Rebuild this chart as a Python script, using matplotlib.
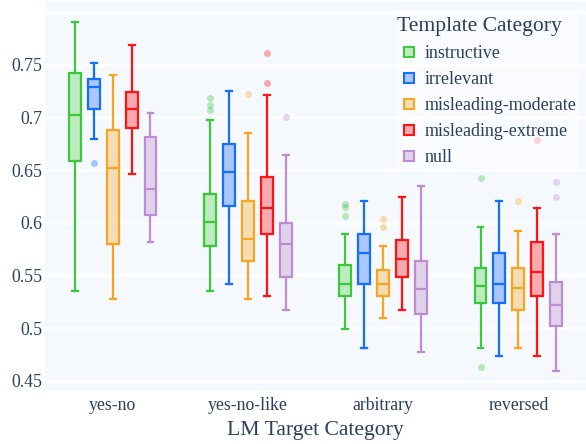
import matplotlib
matplotlib.use("Agg")
import matplotlib.pyplot as plt
from matplotlib.lines import Line2D

# x categories and template series
target_cats = ["yes-no", "yes-no-like", "arbitrary", "reversed"]
templates = ["instructive", "irrelevant", "misleading-moderate", "misleading-extreme", "null"]

# box stats per template: one (low, q1, median, q3, high) per target category
instructive = [(0.535, 0.6585, 0.702, 0.742, 0.790),
               (0.535, 0.578, 0.601, 0.627, 0.697),
               (0.499, 0.531, 0.542, 0.560, 0.589),
               (0.481, 0.524, 0.540, 0.557, 0.596)]
irrelevant = [(0.679, 0.708, 0.729, 0.736, 0.751),
              (0.542, 0.6155, 0.648, 0.675, 0.725),
              (0.481, 0.542, 0.571, 0.589, 0.621),
              (0.474, 0.524, 0.542, 0.571, 0.621)]
mis_moderate = [(0.528, 0.580, 0.652, 0.688, 0.740),
                (0.528, 0.5636, 0.585, 0.621, 0.685),
                (0.510, 0.531, 0.542, 0.555, 0.578),
                (0.481, 0.517, 0.538, 0.557, 0.592)]
mis_extreme = [(0.646, 0.690, 0.708, 0.724, 0.769),
               (0.531, 0.589, 0.614, 0.643, 0.7215),
               (0.517, 0.549, 0.5655, 0.5835, 0.624),
               (0.474, 0.531, 0.553, 0.582, 0.614)]
null = [(0.582, 0.607, 0.632, 0.681, 0.704),
        (0.517, 0.549, 0.580, 0.600, 0.664),
        (0.477, 0.513, 0.537, 0.564, 0.635),
        (0.4595, 0.5025, 0.522, 0.544, 0.589)]

# outliers per template, per target category
instructive_out = [[], [0.7184, 0.7117, 0.7073], [0.6177, 0.6146, 0.6066], [0.6427, 0.463]]
irrelevant_out = [[0.657], [], [], []]
mis_moderate_out = [[], [0.7218], [0.6032, 0.5959], [0.6209]]
mis_extreme_out = [[], [0.7614, 0.7329], [], [0.6788]]
null_out = [[], [0.7003], [], [0.6389, 0.6247]]

all_stats = [instructive, irrelevant, mis_moderate, mis_extreme, null]
all_out = [instructive_out, irrelevant_out, mis_moderate_out, mis_extreme_out, null_out]

edge_colors = ["#3cc83c", "#146eff", "#f5a51e", "#ff1414", "#be8cd2"]
fill_colors = ["#bdebbd", "#aac8ff", "#f5dcb4", "#f8aaaf", "#e1d2eb"]

text_color = "#2a3f5f"
plt.rcParams["font.family"] = ["Liberation Serif", "DejaVu Serif"]

fig = plt.figure(figsize=(5.86, 4.44), dpi=100)
ax = fig.add_axes([45/586, 1-390/444, 1-45/586, 388/444])
ax.set_facecolor("#f5f8fd")

step = 0.14
width = 0.088
for k, name in enumerate(templates):
    stats = []
    positions = []
    for i in range(len(target_cats)):
        lo, q1, med, q3, hi = all_stats[k][i]
        stats.append(dict(whislo=lo, q1=q1, med=med, q3=q3, whishi=hi, fliers=all_out[k][i]))
        positions.append(i + (k - 2) * step)
    ec = edge_colors[k]
    ax.bxp(stats, positions=positions, widths=width, patch_artist=True,
           showfliers=True, manage_ticks=False,
           boxprops=dict(facecolor=fill_colors[k], edgecolor=ec, linewidth=1.6),
           medianprops=dict(color=ec, linewidth=1.6),
           whiskerprops=dict(color=ec, linewidth=1.6),
           capprops=dict(color=ec, linewidth=1.6),
           capwidths=width * 0.5,
           flierprops=dict(marker="o", markersize=5, markerfacecolor=ec,
                           markeredgecolor="none", alpha=0.35),
           zorder=3)

ax.set_xlim(-0.5, 3.5)
ax.set_ylim(0.4414, 0.8093)
ax.set_yticks([0.45, 0.5, 0.55, 0.6, 0.65, 0.7, 0.75, 0.8])
ax.set_yticklabels(["0.45", "0.5", "0.55", "0.6", "0.65", "0.7", "0.75", ""])
ax.set_xticks(range(len(target_cats)))
ax.set_xticklabels(target_cats)
ax.grid(axis="y", color="white", linewidth=2, zorder=0)
ax.set_axisbelow(True)
for s in ax.spines.values():
    s.set_visible(False)
ax.tick_params(length=0, labelsize=12.8, labelcolor=text_color)
ax.tick_params(axis="x", pad=5)
ax.tick_params(axis="y", pad=2)
ax.set_xlabel("LM Target Category", fontsize=15.6, color=text_color, labelpad=5)

handles = [Line2D([], [], linestyle="none", marker="s", markersize=7,
                  markerfacecolor=fill_colors[k], markeredgecolor=edge_colors[k],
                  markeredgewidth=1.5, label=templates[k])
           for k in range(len(templates))]
leg = ax.legend(handles=handles, title="Template Category", loc="upper left",
                bbox_to_anchor=((386 - 45) / 541, 0.9886), fontsize=13, title_fontsize=15.6,
                frameon=True, fancybox=False, handlelength=1.33,
                handletextpad=0.2, labelspacing=0.5, borderpad=0.1,
                labelcolor=text_color)
leg.get_title().set_color(text_color)
leg.get_frame().set_facecolor("white")
leg.get_frame().set_alpha(0.5)
leg.get_frame().set_edgecolor("none")
leg._legend_box.align = "left"

fig.savefig("out.png", dpi=100)
